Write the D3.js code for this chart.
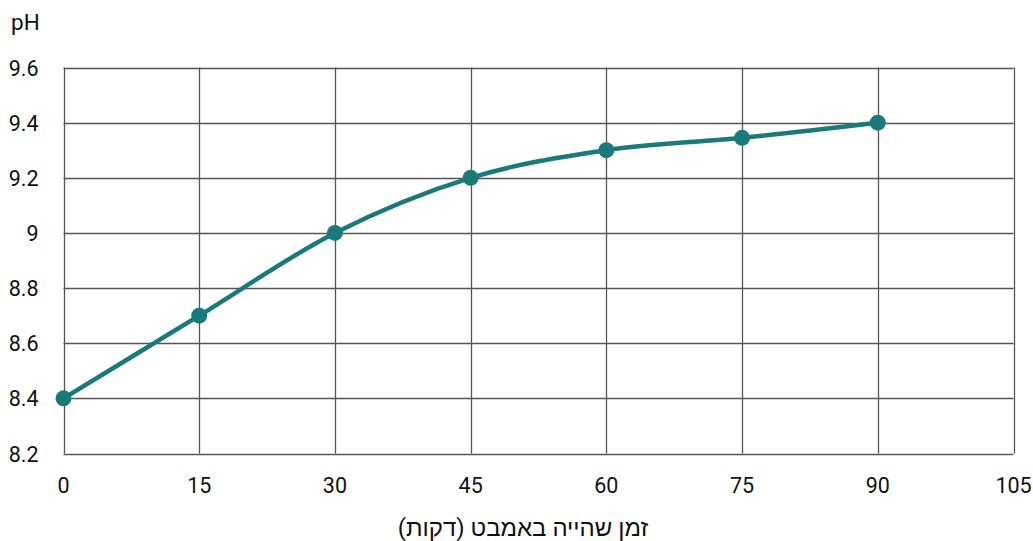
<!DOCTYPE html>
<html><head><meta charset="utf-8">
<script src="https://cdn.jsdelivr.net/npm/d3@7"></script>
<style>body{margin:0;background:#fff}svg{display:block}text{font-family:Roboto,sans-serif;fill:#111}</style>
</head><body><svg id="c" width="1033" height="541"></svg>
<script>
const minutes = [0, 15, 30, 45, 60, 75, 90];
const phValues = [8.4, 8.7, 9.0, 9.2, 9.3, 9.345, 9.4];
const xTicks = [0, 15, 30, 45, 60, 75, 90, 105];
const yTicks = [8.2, 8.4, 8.6, 8.8, 9.0, 9.2, 9.4, 9.6];
const yTickLabels = ["8.2", "8.4", "8.6", "8.8", "9", "9.2", "9.4", "9.6"];
const xTitle = "זמן שהייה באמבט (דקות)";
const yTitle = "pH";

const svg = d3.select("#c");
const m = {l: 63.5, r: 1013.5, t: 67.5, b: 453.5};
const x = d3.scaleLinear().domain([0, 105]).range([m.l, m.r]);
const y = d3.scaleLinear().domain([8.2, 9.6]).range([m.b, m.t]);
const teal = "#1a7a7a";

const g = svg.append("g");
g.selectAll(".vg").data(xTicks).join("line")
  .attr("x1", d => Math.round(x(d)) + 0.5).attr("x2", d => Math.round(x(d)) + 0.5)
  .attr("y1", m.t).attr("y2", m.b).attr("stroke", "#555").attr("stroke-width", 1.3);
g.selectAll(".hg").data(yTicks).join("line")
  .attr("y1", d => Math.round(y(d)) + 0.5).attr("y2", d => Math.round(y(d)) + 0.5)
  .attr("x1", m.l).attr("x2", m.r).attr("stroke", "#555").attr("stroke-width", 1.3);

g.selectAll(".xl").data(xTicks).join("text")
  .attr("x", d => x(d)).attr("y", 493).attr("text-anchor", "middle")
  .attr("font-size", 21.5).text(d => d);
g.selectAll(".yl").data(yTicks).join("text")
  .attr("x", 38.5).attr("y", d => y(d) + 8).attr("text-anchor", "end")
  .attr("font-size", 21.5).text((d, i) => yTickLabels[i]);

svg.append("text").attr("x", 11).attr("y", 30).attr("font-size", 22.5).text(yTitle);
svg.append("text").attr("x", 523).attr("y", 536).attr("text-anchor", "middle")
  .attr("direction", "rtl").attr("font-family", "'Liberation Sans', sans-serif")
  .attr("font-size", 24).text(xTitle);

const pts = minutes.map((d, i) => [d, phValues[i]]);
const line = d3.line().x(d => x(d[0])).y(d => y(d[1])).curve(d3.curveMonotoneX);
g.append("path").datum(pts).attr("d", line).attr("fill", "none")
  .attr("stroke", teal).attr("stroke-width", 4.5);
g.selectAll(".pt").data(pts).join("circle")
  .attr("cx", d => x(d[0])).attr("cy", d => y(d[1])).attr("r", 8).attr("fill", teal);
</script></body></html>
